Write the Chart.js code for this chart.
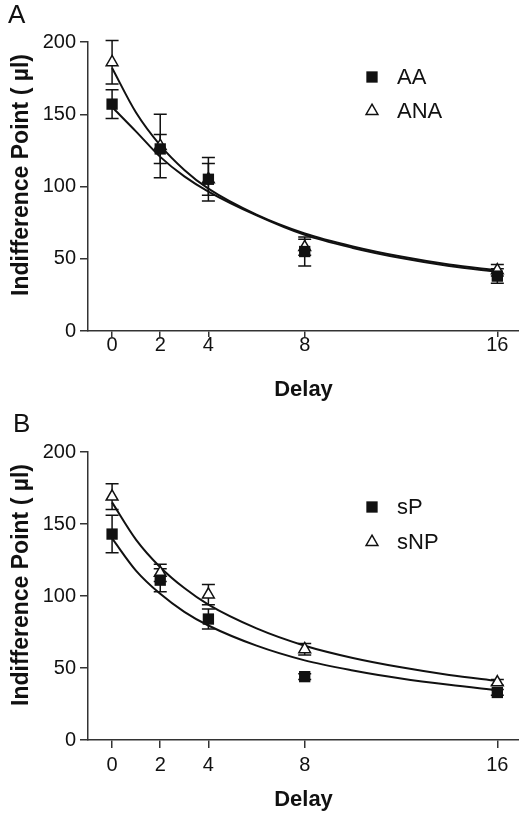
<!DOCTYPE html>
<html>
<head>
<meta charset="utf-8">
<script src="https://cdn.jsdelivr.net/npm/chart.js@4.4.1/dist/chart.umd.min.js"></script>
<style>
  body { margin: 0; background: #fff; }
  canvas { display: block; }
</style>
</head>
<body>
<canvas id="chartA" width="519" height="406"></canvas>
<canvas id="chartB" width="519" height="407"></canvas>
<script>
// delays (x) and tick labels
const delays = [0, 2, 4, 8, 16];
const xTicks = [0, 2, 4, 8, 16];
const yTicks = [0, 50, 100, 150, 200];

// panel A: means and error bars
const aaMean = [157, 126, 105, 55, 38];
const aaErr = [10, 10, 11, 10, 5];
const anaMean = [186, 128, 105, 58, 42];
const anaErr = [15, 22, 15, 5.5, 4];

// panel B: means and error bars
const spMean = [143, 111, 84, 44, 33];
const spErr = [13, 8, 7, 2, 2];
const snpMean = [169, 116, 101, 63, 40];
const snpErr = [9, 6, 7, 4, 2];

// fitted curves
const fitX = [0, 1, 2, 3, 4, 6, 8, 10, 12, 14, 16];
const aaFit = [155, 138, 120.5, 107, 96.5, 80, 66.5, 57.5, 50.5, 45, 41];
const anaFit = [182, 151, 128.5, 111.5, 98.5, 80.5, 67.5, 58.5, 51.5, 46, 42];
const spFit = [140, 117.5, 101.5, 89, 79.5, 65.5, 55.3, 48.3, 42.7, 38.3, 34.6];
const snpFit = [165, 139, 120, 105.5, 94, 77.5, 65.5, 57, 50.5, 45.2, 41];

const ink = "#111";
const axisInk = "#333";
const font = "'Liberation Sans', Arial, Helvetica, sans-serif";
const yTitle = "Indifference Point ( \u00b5l)";

function pts(xs, ys) {
  return xs.map((x, i) => ({ x: x, y: ys[i] }));
}

function drawMarker(ctx, style, x, y) {
  ctx.save();
  ctx.lineWidth = 1.5;
  ctx.strokeStyle = ink;
  if (style === "rect") {
    const s = Math.SQRT1_2 * 8;
    ctx.fillStyle = ink;
    ctx.fillRect(x - s, y - s, 2 * s, 2 * s);
  } else {
    const r = 6.8;
    ctx.fillStyle = "#fff";
    ctx.beginPath();
    ctx.moveTo(x, y - r);
    ctx.lineTo(x + 0.866 * r, y + r / 2);
    ctx.lineTo(x - 0.866 * r, y + r / 2);
    ctx.closePath();
    ctx.fill();
    ctx.stroke();
  }
  ctx.restore();
}

const errorBars = {
  id: "errorBars",
  beforeDatasetsDraw(chart) {
    const ctx = chart.ctx;
    const yScale = chart.scales.y;
    ctx.save();
    ctx.strokeStyle = ink;
    ctx.lineWidth = 1.5;
    chart.data.datasets.forEach((ds, i) => {
      if (!ds.errors) return;
      const meta = chart.getDatasetMeta(i);
      meta.data.forEach((el, j) => {
        const v = ds.data[j].y;
        const e = ds.errors[j];
        const top = yScale.getPixelForValue(v + e);
        const bot = yScale.getPixelForValue(v - e);
        ctx.beginPath();
        ctx.moveTo(el.x, top);
        ctx.lineTo(el.x, bot);
        ctx.moveTo(el.x - 6.5, top);
        ctx.lineTo(el.x + 6.5, top);
        ctx.moveTo(el.x - 6.5, bot);
        ctx.lineTo(el.x + 6.5, bot);
        ctx.stroke();
      });
    });
    ctx.restore();
  }
};

const panelText = {
  id: "panelText",
  afterDraw(chart, args, opts) {
    const ctx = chart.ctx;
    ctx.save();
    ctx.fillStyle = ink;
    ctx.textBaseline = "middle";
    ctx.font = "26px " + font;
    ctx.fillText(opts.letter, opts.letterX, opts.letterY);
    ctx.font = "22px " + font;
    opts.items.forEach((it, k) => {
      const y = opts.legendY + k * opts.legendGap;
      drawMarker(ctx, it.style, 372, y);
      ctx.fillText(it.label, 397, y + 1);
    });
    // y axis title
    ctx.translate(22, opts.titleY);
    ctx.rotate(-Math.PI / 2);
    ctx.textAlign = "center";
    ctx.font = "bold 23px " + font;
    ctx.fillText(yTitle, 0, 0);
    ctx.restore();
  }
};

function makeChart(id, cfg) {
  const ctx = document.getElementById(id).getContext("2d");
  return new Chart(ctx, {
    type: "scatter",
    data: {
      datasets: [
        {
          data: pts(delays, cfg.mean1),
          errors: cfg.err1,
          pointStyle: "rect",
          pointRadius: 8,
          backgroundColor: ink,
          borderColor: ink,
          borderWidth: 0,
        },
        {
          data: pts(delays, cfg.mean2),
          errors: cfg.err2,
          pointStyle: "triangle",
          pointRadius: 6.8,
          backgroundColor: "#fff",
          borderColor: ink,
          borderWidth: 1.5,
        },
        {
          data: pts(fitX, cfg.fit1),
          showLine: true,
          pointRadius: 0,
          borderColor: ink,
          borderWidth: 2,
          cubicInterpolationMode: "monotone",
        },
        {
          data: pts(fitX, cfg.fit2),
          showLine: true,
          pointRadius: 0,
          borderColor: ink,
          borderWidth: 2,
          cubicInterpolationMode: "monotone",
        },
      ],
    },
    options: {
      responsive: false,
      animation: false,
      layout: { autoPadding: false, padding: { top: cfg.top, left: 0, right: 0, bottom: 0 } },
      plugins: {
        legend: { display: false },
        tooltip: { enabled: false },
        panelText: cfg.text,
      },
      scales: {
        x: {
          type: "linear",
          min: -1,
          max: 16.9,
          afterBuildTicks: (s) => { s.ticks = xTicks.map((v) => ({ value: v })); },
          afterFit: (s) => { s.height = cfg.xHeight; },
          grid: { drawOnChartArea: false, drawTicks: true, tickLength: cfg.xTickLen, color: axisInk, lineWidth: 1.5 },
          border: { color: axisInk, width: 1.5 },
          ticks: { color: ink, font: { family: font, size: 20 }, padding: cfg.xTickPad, maxRotation: 0 },
          title: {
            display: true,
            text: "Delay",
            color: ink,
            font: { family: font, size: 22, weight: "bold" },
            padding: { top: 0, bottom: cfg.xTitlePad },
          },
        },
        y: {
          min: 0,
          max: 200,
          afterBuildTicks: (s) => { s.ticks = yTicks.map((v) => ({ value: v })); },
          afterFit: (s) => { s.width = 88; },
          grid: { drawOnChartArea: false, drawTicks: true, tickLength: 8, color: axisInk, lineWidth: 1.5 },
          border: { color: axisInk, width: 1.5 },
          ticks: { color: ink, font: { family: font, size: 20 }, padding: 4 },
        },
      },
    },
    plugins: [errorBars, panelText],
  });
}

makeChart("chartA", {
  mean1: aaMean, err1: aaErr, mean2: anaMean, err2: anaErr,
  fit1: aaFit, fit2: anaFit,
  top: 42, xHeight: 75, xTitlePad: 3, xTickLen: 6, xTickPad: -4,
  text: {
    letter: "A", letterX: 8, letterY: 16, titleY: 175,
    legendY: 77, legendGap: 34,
    items: [{ style: "rect", label: "AA" }, { style: "tri", label: "ANA" }],
  },
});

makeChart("chartB", {
  mean1: spMean, err1: spErr, mean2: snpMean, err2: snpErr,
  fit1: spFit, fit2: snpFit,
  top: 46, xHeight: 73, xTitlePad: 0, xTickLen: 8, xTickPad: 5,
  text: {
    letter: "B", letterX: 13, letterY: 19, titleY: 179,
    legendY: 101, legendGap: 35,
    items: [{ style: "rect", label: "sP" }, { style: "tri", label: "sNP" }],
  },
});
</script>
</body>
</html>
